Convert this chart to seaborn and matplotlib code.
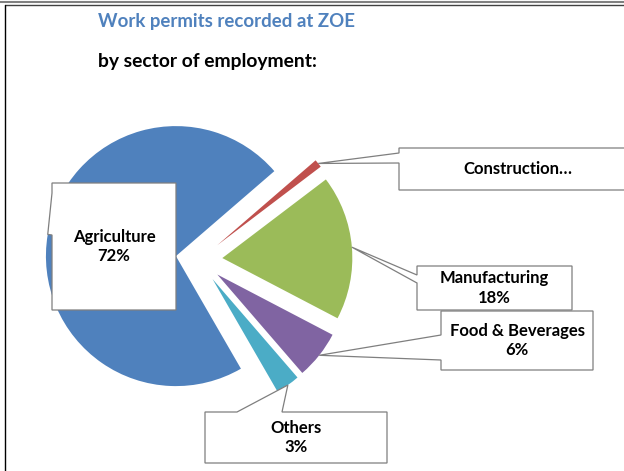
import numpy as np
import matplotlib.pyplot as plt
import seaborn as sns
from matplotlib.patches import Polygon
from matplotlib.lines import Line2D

# data
sectors = ["Agriculture", "Construction", "Manufacturing", "Food & Beverages", "Others"]
shares = [72, 1, 18, 6, 3]
box_texts = ["Agriculture\n72%", "Construction\u2026", "Manufacturing\n18%",
             "Food & Beverages\n6%", "Others\n3%"]
colors = ["#4F81BD", "#C0504D", "#9BBB59", "#8064A2", "#4BACC6"]

sns.set_theme(style="white")
plt.rcParams['font.family'] = ['Lato', 'DejaVu Sans']

W, H = 624, 471
CX, CY, R = 199, 260, 130  # pie centre and radius in pixels


def to_data(px, py):
    return ((px - CX) / R, (CY - py) / R)


fig = plt.figure(figsize=(W / 100, H / 100), dpi=100)
ax = fig.add_axes([0, 0, 1, 1])

wedges, _ = ax.pie(shares, colors=colors, startangle=300, counterclock=False,
                   explode=[0.18] * len(shares), radius=1,
                   wedgeprops=dict(linewidth=0))
ax.set_xlim(-CX / R, (W - CX) / R)
ax.set_ylim(-(H - CY) / R, CY / R)
ax.axis('off')

# callout boxes: (x0, y0, x1, y1) in pixels, side of pointer, pointer base
boxes = [
    ((52, 183, 176, 310), 'left', (193, 235)),
    ((399, 148, 640, 190), 'left', (153, 163)),
    ((417, 266, 572, 310), 'left', (275, 283)),
    ((441, 311, 593, 370), 'left', (335, 360)),
    ((205, 412, 387, 463), 'top', (237, 282)),
]

for w, txt, (box, side, base) in zip(wedges, box_texts, boxes):
    mid = np.deg2rad((w.theta1 + w.theta2) / 2)
    tip = (w.center[0] + w.r * np.cos(mid), w.center[1] + w.r * np.sin(mid))
    x0, y0, x1, y1 = box
    if side == 'left':
        pts = [to_data(x0, y0), to_data(x1, y0), to_data(x1, y1), to_data(x0, y1),
               to_data(x0, base[1]), tip, to_data(x0, base[0])]
    else:
        pts = [to_data(x0, y0), to_data(base[0], y0), tip, to_data(base[1], y0),
               to_data(x1, y0), to_data(x1, y1), to_data(x0, y1)]
    ax.add_patch(Polygon(pts, closed=True, facecolor='white', edgecolor='#7F7F7F',
                         linewidth=0.9, zorder=5))
    tx, ty = to_data((x0 + x1) / 2 if x1 <= W else 518, (y0 + y1) / 2)
    ax.text(tx, ty, txt, ha='center', va='center', fontsize=12, fontweight='bold',
            linespacing=1.3, color='black', zorder=6)

# titles
fig.text(98 / W, 1 - 22 / H, "Work permits recorded at ZOE", color='#4F81BD',
         fontsize=13.4, fontweight='bold', ha='left', va='center')
fig.text(98 / W, 1 - 62 / H, "by sector of employment:", color='black',
         fontsize=13.9, fontweight='bold', ha='left', va='center')

# frame of the embedded chart
fig.add_artist(Line2D([0, 1], [1 - 1.5 / H, 1 - 1.5 / H], color='#808080', lw=1.5,
                      transform=fig.transFigure))
fig.add_artist(Line2D([5 / W, 1], [1 - 5 / H, 1 - 5 / H], color='#404040', lw=1.0,
                      transform=fig.transFigure))
fig.add_artist(Line2D([5 / W, 5 / W], [0, 1 - 5 / H], color='black', lw=1.0,
                      transform=fig.transFigure))

fig.savefig('out.png', dpi=100, facecolor='white')
